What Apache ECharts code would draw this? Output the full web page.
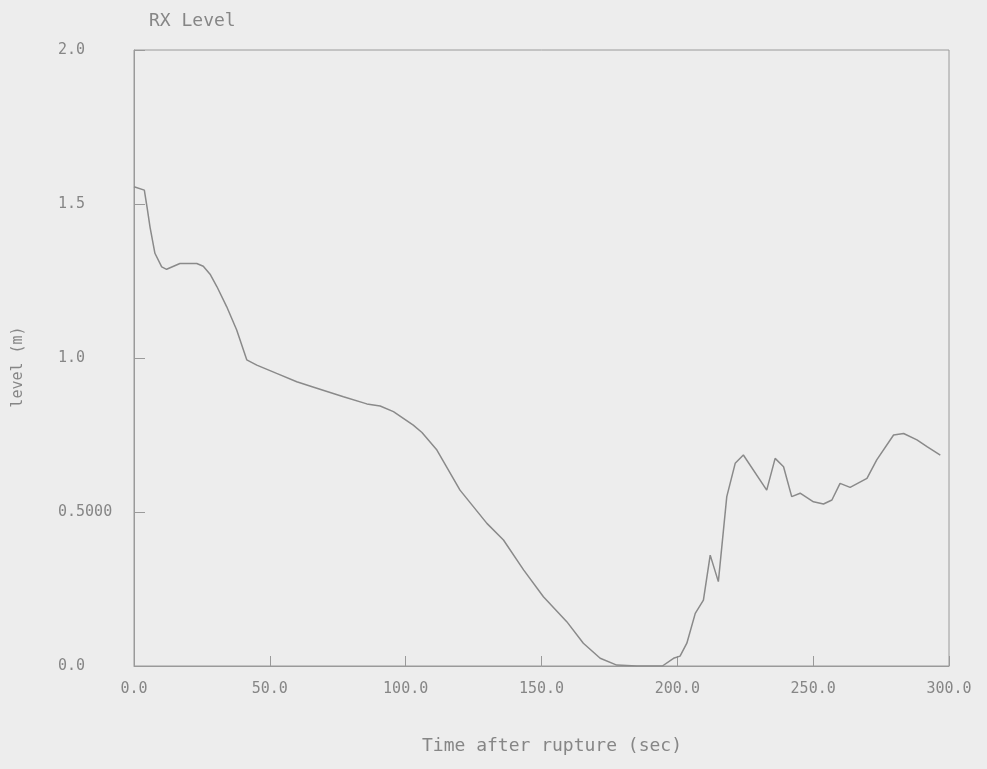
<!DOCTYPE html>
<html>
<head>
<meta charset="utf-8">
<title>RX Level</title>
<script src="https://cdn.jsdelivr.net/npm/echarts@6/dist/echarts.min.js"></script>
<style>
  html, body { margin: 0; padding: 0; background: #ededed; }
  #chart { width: 987px; height: 769px; }
</style>
</head>
<body>
<div id="chart"></div>
<script>
// Reactor vessel level after the rupture
const timeSec = [
  0, 3.8, 4.8, 5.9, 7.7, 10.2, 12.0, 16.9, 23.1, 25.5, 28.0, 30.5, 34.1, 37.8, 41.5,
  45.2, 52.5, 59.9, 67.3, 77.1, 85.7, 90.6, 95.5, 102.8, 106.0, 111.5, 120.0,
  129.9, 136.0, 143.4, 150.7, 159.3, 165.4, 171.6, 177.7, 185.0, 194.5, 198.6,
  201.0, 203.5, 206.6, 209.6, 212.1, 215.1, 218.2, 221.3, 224.3, 232.9, 236.0,
  239.1, 242.1, 245.2, 250.1, 253.8, 256.9, 259.9, 263.6, 269.8, 273.4, 279.6,
  283.3, 288.2, 291.9, 296.8
];
const levelM = [
  1.556, 1.545, 1.49, 1.425, 1.34, 1.296, 1.288, 1.307, 1.307, 1.298, 1.272, 1.232, 1.167, 1.091, 0.994,
  0.977, 0.950, 0.923, 0.902, 0.874, 0.851, 0.844, 0.826, 0.782, 0.758, 0.701, 0.571,
  0.463, 0.409, 0.312, 0.225, 0.144, 0.074, 0.025, 0.003, 0.0, 0.0, 0.025,
  0.032, 0.074, 0.171, 0.214, 0.360, 0.274, 0.550, 0.658, 0.685, 0.571, 0.674,
  0.647, 0.550, 0.561, 0.533, 0.526, 0.539, 0.593, 0.580, 0.609, 0.669, 0.750,
  0.755, 0.734, 0.712, 0.685
];
const xTickLabels = ['0.0', '50.0', '100.0', '150.0', '200.0', '250.0', '300.0'];
const yTickLabels = ['0.0', '0.5000', '1.0', '1.5', '2.0'];

const FONT = '"DejaVu Sans Mono", "Liberation Mono", monospace';
const INK = '#868686';
const FRAME = '#9a9a9a';

const chart = echarts.init(document.getElementById('chart'), null, { renderer: 'canvas' });
chart.setOption({
  backgroundColor: '#ededed',
  animation: false,
  title: {
    text: 'RX Level',
    left: 144,
    top: 7,
    textStyle: { fontFamily: FONT, fontSize: 18, fontWeight: 'normal', color: INK }
  },
  grid: {
    left: 134, top: 50, right: 38, bottom: 103,
    show: true, borderColor: FRAME, borderWidth: 1, backgroundColor: 'transparent'
  },
  xAxis: {
    type: 'value',
    min: 0, max: 300, interval: 50,
    name: 'Time after rupture (sec)',
    nameLocation: 'middle',
    nameGap: 71,
    nameTextStyle: { fontFamily: FONT, fontSize: 18, color: INK, padding: [0, 0, 0, 21] },
    axisLine: { show: true, lineStyle: { color: FRAME, width: 1 } },
    axisTick: { show: true, inside: true, length: 10, lineStyle: { color: FRAME } },
    splitLine: { show: false },
    axisLabel: {
      fontFamily: FONT, fontSize: 15, color: INK, margin: 16,
      formatter: (v) => xTickLabels[Math.round(v / 50)]
    }
  },
  yAxis: {
    type: 'value',
    min: 0, max: 2, interval: 0.5,
    name: 'level (m)',
    nameLocation: 'middle',
    nameGap: 108,
    nameRotate: 90,
    nameTextStyle: { fontFamily: FONT, fontSize: 15, color: INK, padding: [0, 18, 0, 0] },
    axisLine: { show: true, lineStyle: { color: FRAME, width: 1 } },
    axisTick: { show: true, inside: true, length: 11, lineStyle: { color: FRAME } },
    splitLine: { show: false },
    axisLabel: {
      fontFamily: FONT, fontSize: 15, color: INK, margin: 76, align: 'left',
      formatter: (v) => yTickLabels[Math.round(v / 0.5)]
    }
  },
  series: [{
    type: 'line',
    data: timeSec.map((t, i) => [t, levelM[i]]),
    showSymbol: false,
    smooth: false,
    lineStyle: { color: '#8a8a8a', width: 1.5 }
  }]
});
</script>
</body>
</html>
